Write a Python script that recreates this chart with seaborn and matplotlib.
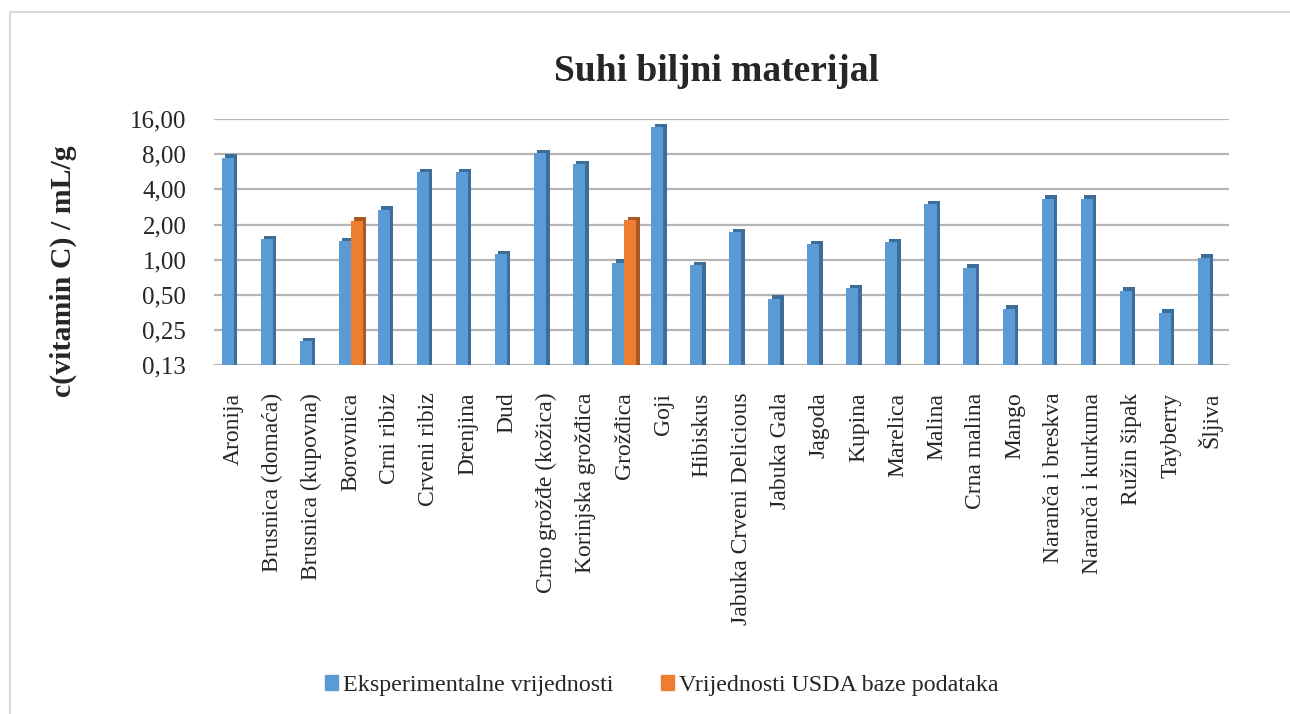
import pandas as pd
import numpy as np
import matplotlib.pyplot as plt
import matplotlib.patheffects as pe
from matplotlib.patches import Rectangle
import seaborn as sns

categories = ['Aronija', 'Brusnica (domaća)', 'Brusnica (kupovna)', 'Borovnica', 'Crni ribiz',
              'Crveni ribiz', 'Drenjina', 'Dud', 'Crno grožđe (kožica)', 'Korinjska grožđica',
              'Grožđica', 'Goji', 'Hibiskus', 'Jabuka Crveni Delicious', 'Jabuka Gala', 'Jagoda',
              'Kupina', 'Marelica', 'Malina', 'Crna malina', 'Mango', 'Naranča i breskva',
              'Naranča i kurkuma', 'Ružin šipak', 'Tayberry', 'Šljiva']
experimental = [7.5, 1.5, 0.20, 1.44, 2.67, 5.6, 5.6, 1.11, 8.2, 6.6,
                0.94, 13.6, 0.89, 1.71, 0.46, 1.35, 0.57, 1.41, 2.99, 0.85,
                0.38, 3.34, 3.34, 0.54, 0.35, 1.04]
usda_categories = ['Borovnica', 'Grožđica']
usda_values = [2.15, 2.18]

series_names = ['Eksperimentalne vrijednosti', 'Vrijednosti USDA baze podataka']
yticks = [0.125, 0.25, 0.5, 1, 2, 4, 8, 16]
ytick_labels = ['0,13', '0,25', '0,50', '1,00', '2,00', '4,00', '8,00', '16,00']

df = pd.concat([
    pd.DataFrame({'voce': categories, 'c': experimental, 'serija': series_names[0]}),
    pd.DataFrame({'voce': usda_categories, 'c': usda_values, 'serija': series_names[1]}),
], ignore_index=True)

sns.set_style('white')
plt.rcParams['font.family'] = ['Liberation Serif', 'DejaVu Serif']

fig = plt.figure(figsize=(12.9, 7.14), dpi=100)
ax = fig.add_axes([0.166, 0.489, 0.787, 0.344])

face = {series_names[0]: '#5b9bd5', series_names[1]: '#ed7d31'}
side = {series_names[0]: '#3d6d99', series_names[1]: '#a95a22'}

sns.barplot(data=df, x='voce', y='c', hue='serija', order=categories,
            hue_order=series_names, palette=face, width=0.62, dodge=True,
            saturation=1, legend=False, ax=ax, zorder=3, linewidth=0)

# fake 3D depth: dark shadow up and to the right of every bar
for cont, name in zip(ax.containers, series_names):
    for bar in cont:
        bar.set_edgecolor('none')
        bar.set_path_effects([pe.SimplePatchShadow(offset=(2.5, 2.5), shadow_rgbFace=side[name], alpha=1),
                              pe.Normal()])

ax.set_yscale('log', base=2)
ax.set_ylim(0.125, 16)
ax.set_yticks(yticks)
ax.set_yticklabels(ytick_labels)
ax.minorticks_off()
ax.set_xlim(-0.5, len(categories) - 0.5)
ax.grid(axis='y', color='#b5b5b5', lw=1.6, zorder=0)
ax.set_axisbelow(True)
for s in ax.spines.values():
    s.set_visible(False)

ax.tick_params(axis='y', labelsize=18, pad=20, length=0)
ax.tick_params(axis='x', labelsize=17, pad=20, length=0, labelrotation=90)
ax.set_xlabel('')
ax.set_ylabel('c(vitamin C) / mL/g', fontsize=21.5, fontweight='bold')
ax.yaxis.set_label_coords(-0.135, 0.38)

fig.suptitle('Suhi biljni materijal', x=0.555, y=0.925, fontsize=27, fontweight='bold')

handles = [Rectangle((0, 0), 1, 1, color=face[n]) for n in series_names]
fig.legend(handles, series_names, loc='center', bbox_to_anchor=(0.513, 0.04), ncol=2,
           frameon=False, fontsize=17.3, handlelength=0.55, handleheight=0.55,
           handletextpad=0.2, columnspacing=2.0)

fig.patches.append(Rectangle((0.0078, -0.1), 1.1, 1.083, transform=fig.transFigure,
                             fill=False, edgecolor='#d9d9d9', lw=1.5))

fig.savefig('out.png', dpi=100)
